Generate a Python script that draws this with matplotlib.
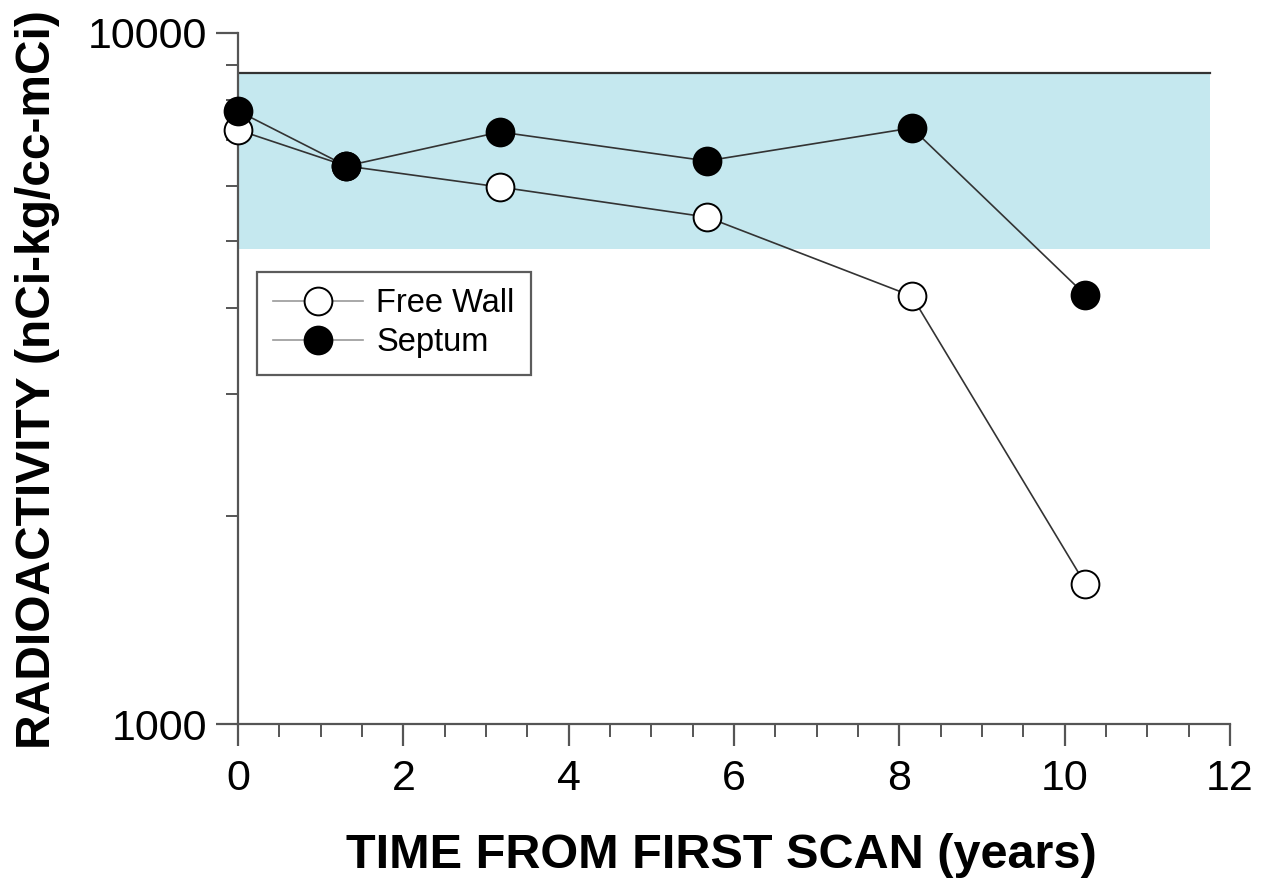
import matplotlib
matplotlib.use("Agg")
import matplotlib.pyplot as plt
from matplotlib.ticker import FixedLocator, NullFormatter

plt.rcParams['font.family'] = ['Liberation Sans', 'DejaVu Sans']

years = [0.0, 1.31, 3.17, 5.67, 8.15, 10.25]
free_wall = [7240, 6420, 5985, 5416, 4163, 1594]
septum = [7713, 6420, 7190, 6530, 7287, 4178]
band_low, band_high = 4867, 8750
band_x = [0.0, 11.76]

W, H = 1277, 882
fig = plt.figure(figsize=(W / 100, H / 100), dpi=100)
ax = fig.add_axes([238 / W, 1 - 724 / H, 992 / W, 691 / H])

ax.fill_between(band_x, band_low, band_high, color='#c5e8ef', lw=0, zorder=1)
ax.plot(band_x, [band_high, band_high], color='#333333', lw=1.6, zorder=2)

ax.plot(years, free_wall, '-o', color='#333333', lw=1.2, ms=20,
        mfc='white', mec='black', mew=1.4, label='Free Wall', zorder=5, clip_on=False)
ax.plot(years, septum, '-o', color='#333333', lw=1.2, ms=20,
        mfc='black', mec='black', mew=1.4, label='Septum', zorder=6, clip_on=False)

ax.set_yscale('log')
ax.set_ylim(1000, 10000)
ax.set_xlim(0, 12)
ax.set_yticks([1000, 10000])
ax.set_yticklabels(['1000', '10000'])
ax.yaxis.set_minor_locator(FixedLocator([2000, 3000, 4000, 5000, 6000, 7000, 8000, 9000]))
ax.yaxis.set_minor_formatter(NullFormatter())
ax.set_xticks(range(0, 13, 2))
ax.xaxis.set_minor_locator(FixedLocator([x * 0.5 for x in range(25)]))

for s in ['top', 'right']:
    ax.spines[s].set_visible(False)
for s in ['left', 'bottom']:
    ax.spines[s].set_color('#555555')
    ax.spines[s].set_linewidth(1.6)

ax.tick_params(which='major', direction='out', length=16, width=1.6, color='#555555',
               labelsize=31, pad=6)
ax.tick_params(which='major', axis='x', pad=9)
ax.tick_params(which='minor', direction='out', length=9, width=1.4, color='#555555')

fig.text(721 / W, 1 - 868 / H, 'TIME FROM FIRST SCAN (years)', fontsize=35,
         fontweight='bold', ha='center', va='baseline')
fig.text(50 / W, 1 - 380 / H, 'RADIOACTIVITY (nCi-kg/cc-mCi)', fontsize=34.5,
         fontweight='bold', ha='center', va='baseline', rotation=90,
         rotation_mode='anchor')

leg = ax.legend(loc='upper left', bbox_to_anchor=((257 - 238) / 992, (724 - 272) / 691),
                fontsize=23.5, frameon=True, fancybox=False, borderpad=0.5,
                handlelength=2.75, handletextpad=0.4, labelspacing=0.25,
                markerscale=1.0, borderaxespad=0)
leg.get_frame().set_edgecolor('#333333')
leg.get_frame().set_linewidth(1.6)
leg.set_zorder(4)
for l in leg.get_lines():
    l.set_color('#999999')
    l.set_markeredgecolor('black')

fig.savefig('out.png', dpi=100)
